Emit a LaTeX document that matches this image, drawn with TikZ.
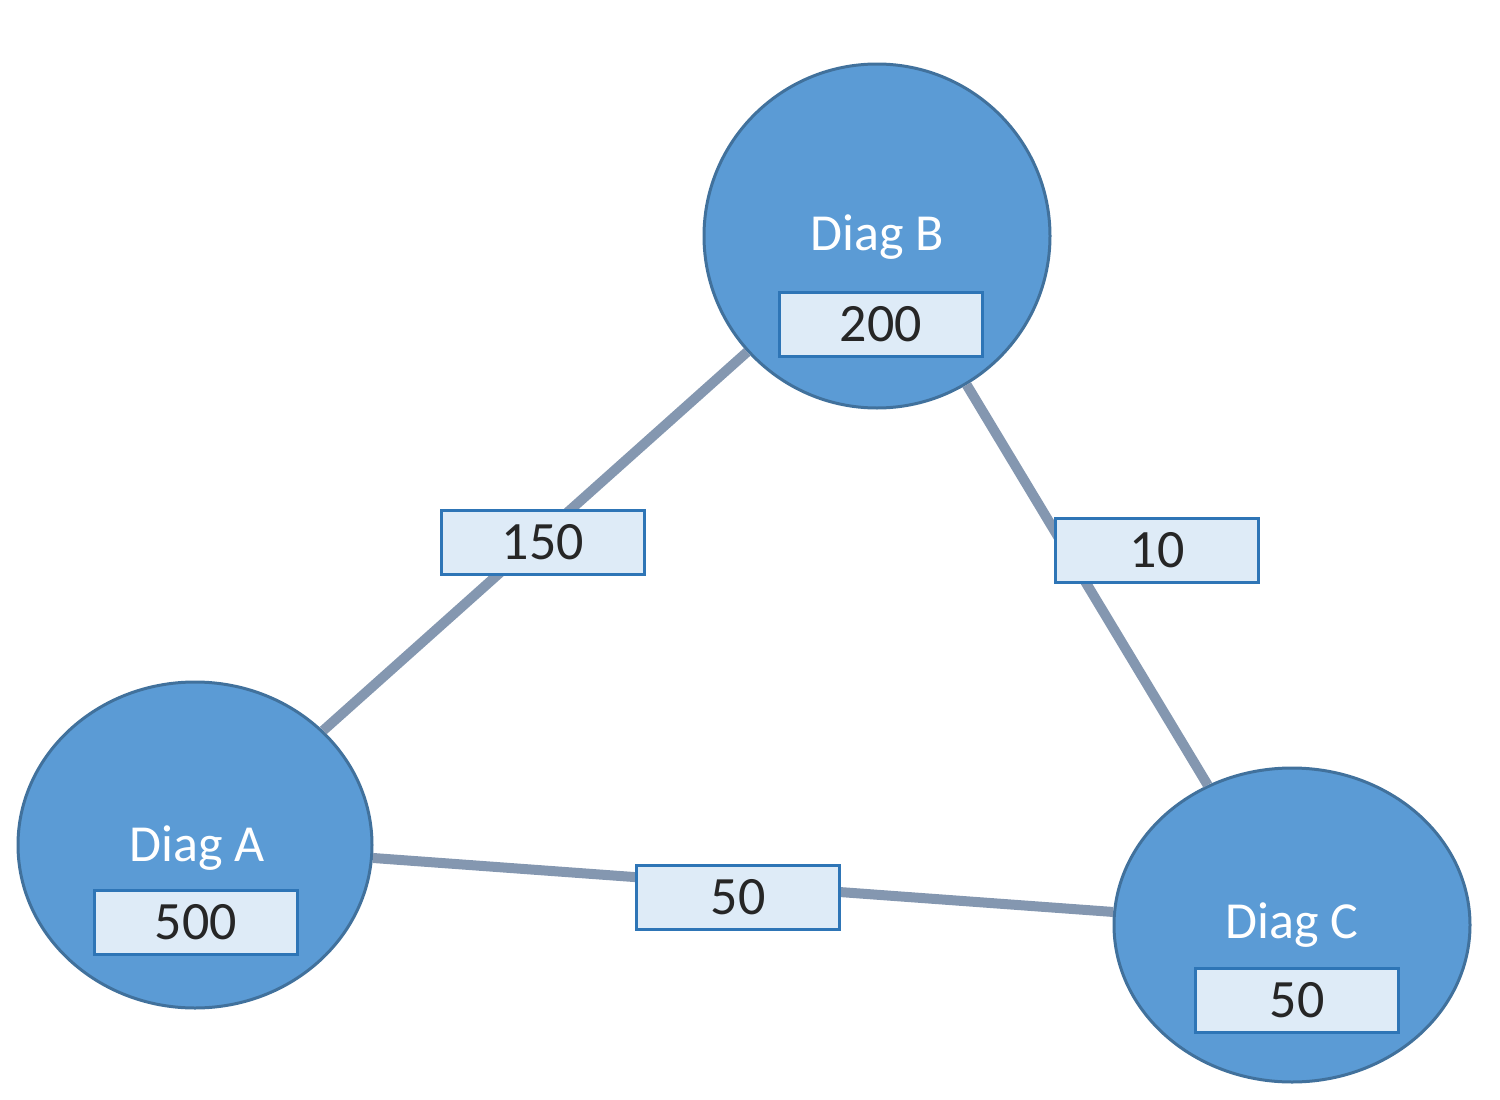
\documentclass[tikz,border=0pt]{standalone}
\usepackage{fontspec}
\setmainfont{Carlito}
\usetikzlibrary{shapes.geometric}
\definecolor{cfill}{HTML}{5B9BD5}
\definecolor{cdraw}{HTML}{41719C}
\definecolor{cedge}{HTML}{8497B0}
\definecolor{bfill}{HTML}{DEEBF7}
\definecolor{bdraw}{HTML}{2E75B6}
\begin{document}
\begin{tikzpicture}[x=1pt,y=-1pt,
  circ/.style={ellipse,fill=cfill,draw=cdraw,line width=3pt,inner sep=0pt},
  lbl/.style={text=white,font=\fontsize{52}{56}\selectfont},
  box/.style={fill=bfill,draw=bdraw,line width=3pt,minimum width=203pt,minimum height=64pt,inner sep=0pt,font=\fontsize{54}{58}\selectfont,text=black!85},
  edge/.style={draw=cedge,line width=10pt}]
\useasboundingbox (0,0) rectangle (1500,1100);
\node[circ,minimum width=346pt,minimum height=344pt] (B) at (877,236) {};
\node[circ,minimum width=354pt,minimum height=326pt] (A) at (195,845) {};
\node[circ,minimum width=356pt,minimum height=314pt] (C) at (1292,925) {};
\begin{scope}[on background layer/.style={}]
\end{scope}
\node[lbl] (tB) at (877,237) {Diag B};
\node[box] (vB) at (881,324) {200};
\node[lbl] (tA) at (197,848) {Diag A};
\node[box] (vA) at (196,922) {500};
\node[lbl] (tC) at (1292,925) {Diag C};
\node[box] (vC) at (1297,1000) {50};
\path[edge] (A) -- (B);
\path[edge] (B) -- (C);
\path[edge] (A) -- (C);
\node[box] (e1) at (543,542) {150};
\node[box] (e2) at (1157,550) {10};
\node[box] (e3) at (738,897) {50};
\end{tikzpicture}
\end{document}
